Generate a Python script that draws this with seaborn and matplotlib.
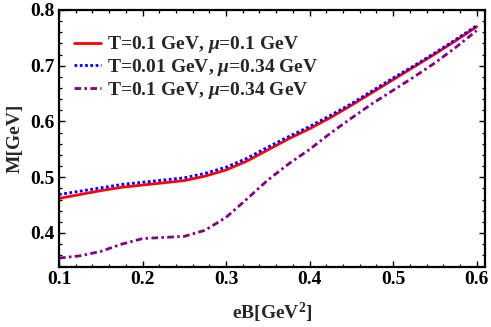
import matplotlib
matplotlib.use("Agg")
import matplotlib.pyplot as plt
from matplotlib.ticker import MultipleLocator, FormatStrFormatter
import pandas as pd
import seaborn as sns

# values
eB = [0.100, 0.125, 0.150, 0.175, 0.200, 0.225, 0.250, 0.275, 0.300, 0.325,
      0.350, 0.375, 0.400, 0.425, 0.450, 0.475, 0.500, 0.525, 0.550, 0.575, 0.600]
m_red = [0.462, 0.469, 0.476, 0.482, 0.486, 0.490, 0.494, 0.502, 0.513, 0.529,
         0.549, 0.569, 0.587, 0.607, 0.629, 0.652, 0.675, 0.698, 0.721, 0.745, 0.770]
m_blue = [0.469, 0.475, 0.481, 0.487, 0.491, 0.495, 0.499, 0.507, 0.518, 0.534,
          0.554, 0.573, 0.591, 0.611, 0.632, 0.655, 0.678, 0.700, 0.723, 0.747, 0.772]
m_purple = [0.355, 0.359, 0.367, 0.380, 0.390, 0.392, 0.394, 0.405, 0.428, 0.461,
            0.495, 0.524, 0.550, 0.579, 0.606, 0.632, 0.656, 0.680, 0.705, 0.733, 0.763]

labels = [r"T=0.1 GeV, $\mu$=0.1 GeV",
          r"T=0.01 GeV, $\mu$=0.34 GeV",
          r"T=0.1 GeV, $\mu$=0.34 GeV"]
colours = ["#ff0000", "#0000ff", "#800080"]
styles = ["-", (0, (1.0, 0.9)), (0, (2.4, 1.2, 0.9, 1.2))]

sns.set_theme(style="ticks")
plt.rcParams["font.family"] = ["Liberation Serif", "DejaVu Serif"]
plt.rcParams["font.weight"] = "bold"
plt.rcParams["mathtext.fontset"] = "custom"
plt.rcParams["mathtext.rm"] = "Liberation Serif:bold"
plt.rcParams["mathtext.it"] = "Liberation Serif:italic:bold"
plt.rcParams["mathtext.bf"] = "Liberation Serif:bold"

fig, ax = plt.subplots(figsize=(4.91, 3.27), dpi=100)
fig.subplots_adjust(left=59/491, right=485/491, top=1-10/327, bottom=1-267/327)

for ys, lab, col, ls in zip([m_red, m_blue, m_purple], labels, colours, styles):
    df = pd.DataFrame({"eB": eB, "M": ys})
    sns.lineplot(data=df, x="eB", y="M", ax=ax, color=col, linestyle=ls,
                 linewidth=2.0, label=lab)

ax.set_xlim(0.1, 0.61)
ax.set_ylim(0.339, 0.8)
ax.xaxis.set_major_locator(MultipleLocator(0.1))
ax.xaxis.set_minor_locator(MultipleLocator(0.02))
ax.yaxis.set_major_locator(MultipleLocator(0.1))
ax.yaxis.set_minor_locator(MultipleLocator(0.02))
ax.xaxis.set_major_formatter(FormatStrFormatter("%.1f"))
ax.yaxis.set_major_formatter(FormatStrFormatter("%.1f"))
ax.tick_params(which="both", direction="in", top=True, right=True,
               colors="black", labelsize=14)
ax.tick_params(which="major", length=4, width=1.0, pad=3)
ax.tick_params(which="minor", length=2.2, width=0.9)
for s in ax.spines.values():
    s.set_linewidth(1.6)
    s.set_color("black")

ax.set_xlabel(r"eB[GeV$^2$]", fontsize=14, fontweight="bold", labelpad=9)
ax.set_ylabel("M[GeV]", fontsize=14, fontweight="bold", labelpad=5)

leg = ax.legend(loc="upper left", bbox_to_anchor=(0.035, 0.905), frameon=False,
                fontsize=14, handlelength=1.4, handletextpad=0.3,
                labelspacing=0.08, borderaxespad=0, borderpad=0)

fig.savefig("out.png", dpi=100)
